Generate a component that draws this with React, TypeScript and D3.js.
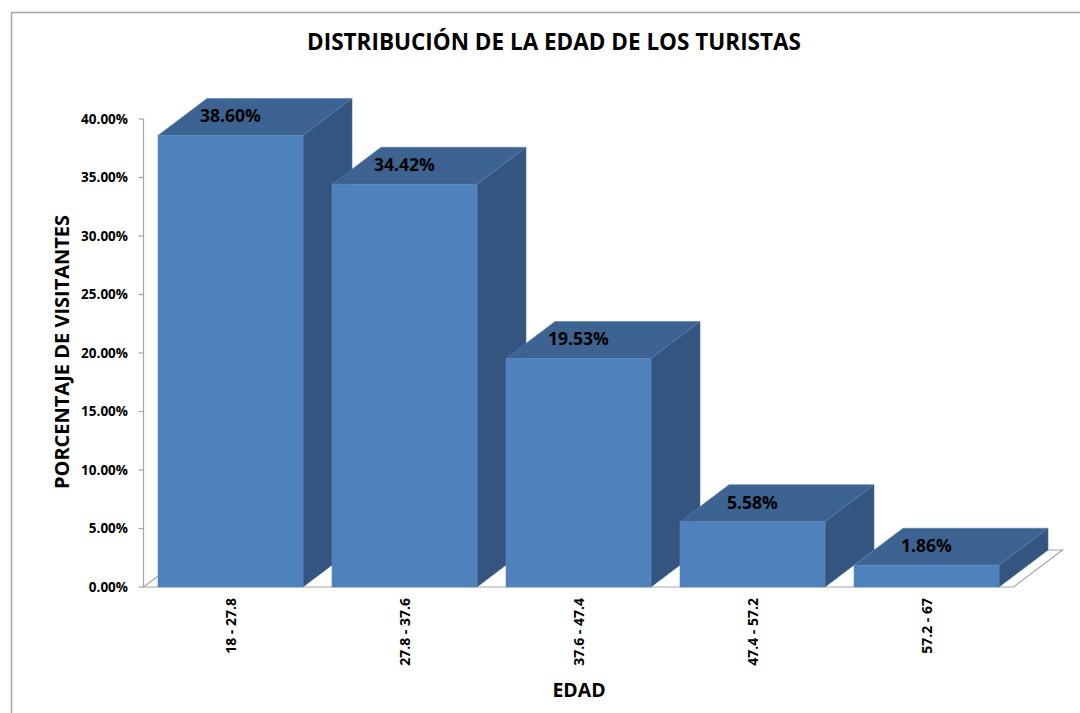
import React from "react";
import * as d3 from "d3";

// Age brackets and share of visitors in each
const categories = ["18 - 27.8", "27.8 - 37.6", "37.6 - 47.4", "47.4 - 57.2", "57.2 - 67"];
const values = [0.386, 0.3442, 0.1953, 0.0558, 0.0186];
const yTicks = [0, 0.05, 0.1, 0.15, 0.2, 0.25, 0.3, 0.35, 0.4];

const W = 1080;
const H = 713;
const FONT = "'Open Sans', 'DejaVu Sans', sans-serif";

// Plot box (front plane) and the 3D depth offset
const plot = { left: 143.5, right: 1013.5, top: 119, bottom: 587 };
const depth = { dx: 49, dy: -37 };

const colors = {
  front: "#4f81bd",
  top: "#3c6391",
  side: "#33557f",
  axis: "#a6a6a6",
};

export default function App() {
  const x = d3
    .scaleBand<string>()
    .domain(categories)
    .range([plot.left, plot.right])
    .paddingInner(1 / 6)
    .paddingOuter(1 / 12);
  const y = d3.scaleLinear().domain([0, 0.4]).range([plot.bottom, plot.top]);
  const fmt = d3.format(".2%");
  const y0 = y(0);
  const { dx, dy } = depth;

  const floor = [
    [plot.left, y0],
    [plot.right, y0],
    [plot.right + dx, y0 + dy],
    [plot.left + dx, y0 + dy],
  ];
  const line = d3.line();

  return (
    <svg
      width={W}
      height={H}
      style={{ position: "absolute", left: 0, top: 0, background: "#fff" }}
      fontFamily={FONT}
    >
      <rect x={11.5} y={12.5} width={W} height={H} fill="#fff" stroke="#a6a6a6" strokeWidth={1.5} />

      <text x={554} y={50} textAnchor="middle" fontSize={22.5} fontWeight={700} fill="#000">
        DISTRIBUCIÓN DE LA EDAD DE LOS TURISTAS
      </text>

      {/* floor */}
      <path d={line(floor as [number, number][]) + "Z"} fill="#fff" stroke={colors.axis} strokeWidth={1.2} />

      {/* value axis */}
      <line x1={plot.left} x2={plot.left} y1={plot.top} y2={plot.bottom} stroke={colors.axis} strokeWidth={1.2} />
      {yTicks.map((t) => (
        <g key={t}>
          <line x1={plot.left - 5} x2={plot.left} y1={y(t)} y2={y(t)} stroke={colors.axis} strokeWidth={1.2} />
          <text x={128} y={y(t)} dy="0.35em" textAnchor="end" fontSize={13.5} fontWeight={700} fill="#000">
            {fmt(t)}
          </text>
        </g>
      ))}

      {/* bars */}
      {categories.map((c, i) => {
        const x0 = x(c)!;
        const x1 = x0 + x.bandwidth();
        const yt = y(values[i]);
        const top: [number, number][] = [
          [x0, yt],
          [x1, yt],
          [x1 + dx, yt + dy],
          [x0 + dx, yt + dy],
        ];
        const side: [number, number][] = [
          [x1, yt],
          [x1 + dx, yt + dy],
          [x1 + dx, y0 + dy],
          [x1, y0],
        ];
        return (
          <g key={c}>
            <path d={line(side) + "Z"} fill={colors.side} stroke="#4a6e98" strokeWidth={0.6} />
            <path d={line(top) + "Z"} fill={colors.top} stroke="#5a80ad" strokeWidth={0.6} />
            <rect x={x0} y={yt} width={x1 - x0} height={y0 - yt} fill={colors.front} stroke="#5d8cc4" strokeWidth={0.6} />
            <text
              x={x0 + x.bandwidth() / 2}
              y={yt - 13}
              textAnchor="middle"
              fontSize={17.5}
              fontWeight={700}
              fill="#000"
            >
              {fmt(values[i])}
            </text>
          </g>
        );
      })}

      {/* category labels */}
      {categories.map((c) => {
        const cx = x(c)! + x.bandwidth() / 2;
        return (
          <text
            key={c}
            transform={`translate(${cx + 5},598) rotate(-90)`}
            textAnchor="end"
            fontSize={14}
            fontWeight={700}
            fill="#000"
          >
            {c}
          </text>
        );
      })}

      <text
        transform="translate(69,352) rotate(-90)"
        textAnchor="middle"
        fontSize={20}
        fontWeight={700}
        fill="#000"
      >
        PORCENTAJE DE VISITANTES
      </text>
      <text x={579} y={697} textAnchor="middle" fontSize={19.5} fontWeight={700} fill="#000">
        EDAD
      </text>
    </svg>
  );
}
